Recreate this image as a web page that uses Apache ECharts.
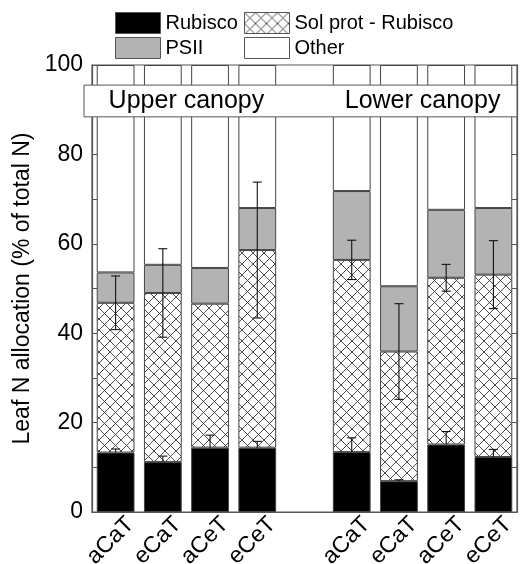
<!DOCTYPE html>
<html><head><meta charset="utf-8">
<script src="https://cdn.jsdelivr.net/npm/echarts@6/dist/echarts.min.js"></script>
<style>html,body{margin:0;padding:0;background:#fff}#c{width:520px;height:564px}</style>
</head><body><div id="c"></div>
<script>
const categories = ['aCaT','eCaT','aCeT','eCeT','','aCaT','eCaT','aCeT','eCeT'];
const rubisco    = [13.3, 11.2, 14.4, 14.4, null, 13.4, 6.9, 15.1, 12.3];
const solProt    = [33.5, 37.8, 32.2, 44.2, null, 43.0, 29.0, 37.3, 40.8];
const psii       = [6.8, 6.3, 8.0, 9.4, null, 15.4, 14.6, 15.2, 14.9];
const other      = [46.4, 44.7, 45.4, 32.0, null, 28.2, 49.5, 32.4, 32.0];
const rubiscoErr = [0.8, 1.3, 2.8, 1.4, null, 3.2, 0.3, 2.9, 1.7];
const solProtErr = [6.0, 9.9, null, 15.2, null, 4.4, 10.7, 3.0, 7.6];
const groupLabels = ['Upper canopy', 'Lower canopy'];
const groupIdx = [[0, 3], [5, 8]];

const FONT = "'Liberation Sans', Arial, Helvetica, sans-serif";

// crosshatch pattern
const T = 11;
const pc = document.createElement('canvas');
pc.width = T; pc.height = T;
const g = pc.getContext('2d');
g.fillStyle = '#fff'; g.fillRect(0, 0, T, T);
g.strokeStyle = '#3a3a3a'; g.lineWidth = 0.9;
g.beginPath();
g.moveTo(0, 0); g.lineTo(T, T);
g.moveTo(T, 0); g.lineTo(0, T);
g.stroke();
const hatch = { image: pc, repeat: 'repeat' };

// [category index, stacked top, error, upper-only flag]
const errData = [];
categories.forEach((c, i) => {
  if (rubiscoErr[i] != null) errData.push([i, rubisco[i], rubiscoErr[i], 1]);
  if (solProtErr[i] != null) errData.push([i, rubisco[i] + solProt[i], solProtErr[i], 0]);
});

const barBase = {
  type: 'bar', stack: 'n', barWidth: '80%',
  emphasis: { disabled: true }
};

const legendBase = {
  padding: 0, itemWidth: 45, itemHeight: 21, icon: 'rect', selectedMode: false,
  textStyle: { fontSize: 20, color: '#000', fontFamily: FONT },
  itemStyle: { borderColor: '#555', borderWidth: 1 }
};

const chart = echarts.init(document.getElementById('c'));
chart.setOption({
  animation: false,
  backgroundColor: '#fff',
  textStyle: { fontFamily: FONT },
  grid: { left: 92, right: 3, top: 65, bottom: 52, show: true, borderColor: '#555', borderWidth: 1.2,
          backgroundColor: 'transparent', containLabel: false, outerBoundsMode: 'none' },
  legend: [
    Object.assign({}, legendBase, { data: ['Rubisco'], left: 115, top: 12 }),
    Object.assign({}, legendBase, { data: ['Sol prot - Rubisco'], left: 244, top: 12 }),
    Object.assign({}, legendBase, { data: ['PSII'], left: 115, top: 37 }),
    Object.assign({}, legendBase, { data: ['Other'], left: 244, top: 37 })
  ],
  xAxis: {
    type: 'category', data: categories,
    axisLine: { lineStyle: { color: '#555', width: 1.2 } },
    axisTick: { show: false },
    axisLabel: { rotate: 45, fontSize: 23, color: '#000', margin: -6, interval: 0, fontFamily: FONT,
                 verticalAlign: 'top', lineHeight: 42 }
  },
  yAxis: [{
    type: 'value', min: 0, max: 100, interval: 10,
    name: 'Leaf N allocation (% of total N)', nameLocation: 'middle', nameGap: 54,
    nameTextStyle: { fontSize: 23, color: '#000', fontFamily: FONT },
    axisLine: { show: true, lineStyle: { color: '#555', width: 1.2 } },
    axisTick: { show: true, inside: true, length: 5, lineStyle: { color: '#555' } },
    axisLabel: { fontSize: 23, color: '#000', margin: 9, fontFamily: FONT, formatter: v => (v % 20 === 0 ? String(v) : '') },
    splitLine: { show: false }
  }, {
    type: 'value', min: 0, max: 100, interval: 10, position: 'right',
    axisLine: { show: true, lineStyle: { color: '#555', width: 1.2 } },
    axisTick: { show: true, inside: true, length: 5, lineStyle: { color: '#555' } },
    axisLabel: { show: false }, splitLine: { show: false }
  }],
  series: [
    Object.assign({}, barBase, { name: 'Rubisco', data: rubisco, itemStyle: { color: '#000', borderColor: '#444', borderWidth: 1 } }),
    Object.assign({}, barBase, { name: 'Sol prot - Rubisco', data: solProt, itemStyle: { color: hatch, borderColor: '#444', borderWidth: 1 } }),
    Object.assign({}, barBase, { name: 'PSII', data: psii, itemStyle: { color: '#b3b3b3', borderColor: '#444', borderWidth: 1 } }),
    Object.assign({}, barBase, { name: 'Other', data: other, itemStyle: { color: '#fff', borderColor: '#444', borderWidth: 1 } }),
    {
      type: 'custom', name: 'err', data: errData, z: 10, silent: true,
      encode: { x: 0, y: 1 },
      renderItem: function (params, api) {
        const x = api.value(0), c = api.value(1), e = api.value(2), up = api.value(3);
        const t = api.coord([x, c + e]);
        const b = up ? api.coord([x, c]) : api.coord([x, c - e]);
        const w = 4.5;
        const st = { stroke: '#111', lineWidth: 1.1 };
        const ch = [
          { type: 'line', shape: { x1: t[0], y1: t[1], x2: b[0], y2: b[1] }, style: st },
          { type: 'line', shape: { x1: t[0] - w, y1: t[1], x2: t[0] + w, y2: t[1] }, style: st }
        ];
        if (!up) ch.push({ type: 'line', shape: { x1: b[0] - w, y1: b[1], x2: b[0] + w, y2: b[1] }, style: st });
        return { type: 'group', children: ch };
      }
    }
  ]
});

// group label box
const p = (i, v) => chart.convertToPixel({ gridIndex: 0 }, [i, v]);
const yTop = p(0, 95.5)[1], yBot = p(0, 88.4)[1];
const gridRight = 520 - 3;
const children = [{
  type: 'rect', shape: { x: 84, y: yTop, width: gridRight - 84, height: yBot - yTop },
  style: { fill: '#fff', stroke: '#555', lineWidth: 1 }, z: 100
}];
groupLabels.forEach((lab, k) => {
  const cx = (p(groupIdx[k][0] + 1, 0)[0] + p(groupIdx[k][1] - 1, 0)[0]) / 2;
  children.push({
    type: 'text', x: cx, y: (yTop + yBot) / 2, z: 101,
    style: { text: lab, fontSize: 25, fontFamily: FONT, fill: '#000', align: 'center', verticalAlign: 'middle' }
  });
});
chart.setOption({ graphic: children });
</script></body></html>
